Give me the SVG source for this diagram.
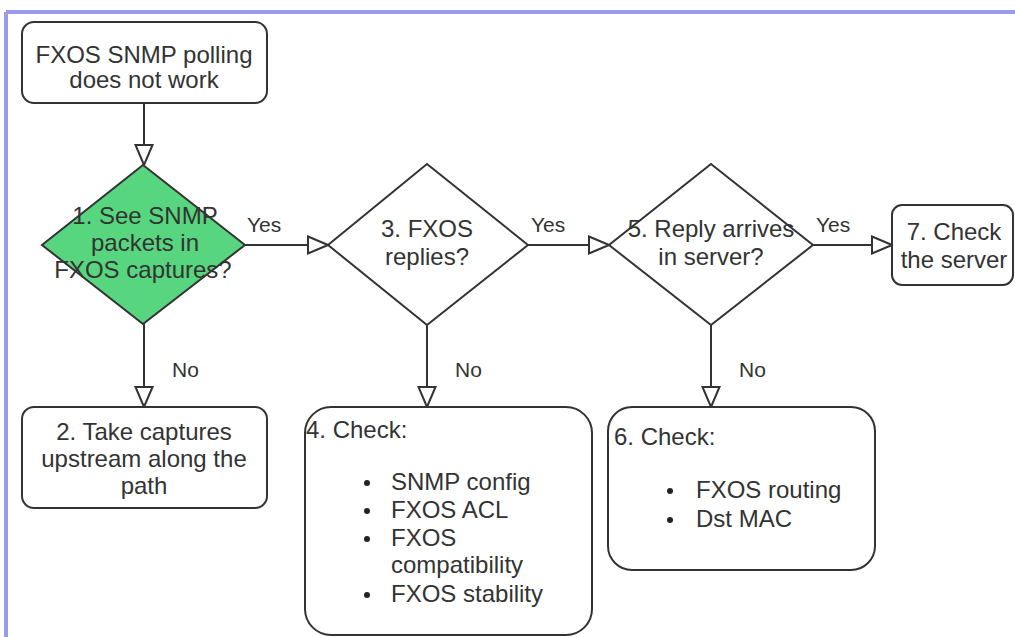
<svg xmlns="http://www.w3.org/2000/svg" width="1015" height="637" viewBox="0 0 1015 637">
<style>
.t{font-family:"Liberation Sans",Arial,sans-serif;font-size:24px;fill:#333}
.c{text-anchor:middle}
.lbl{font-family:"Liberation Sans",Arial,sans-serif;font-size:21px;fill:#333}
.box{fill:#fff;stroke:#333;stroke-width:2}
.line{fill:none;stroke:#333;stroke-width:2}
</style>
<defs>
<marker id="arr" viewBox="0 0 22 20" markerWidth="22" markerHeight="20" refX="21" refY="10" markerUnits="userSpaceOnUse" orient="auto">
<path d="M1,1.5 L21,10 L1,18.5 z" fill="#fff" stroke="#333" stroke-width="2"/>
</marker>
</defs>
<rect x="0" y="0" width="1015" height="637" fill="#fff"/>
<g id="frame">
<line x1="6" y1="12" x2="1015" y2="12" stroke="#9b9bee" stroke-width="4"/>
<line x1="6" y1="12" x2="6" y2="637" stroke="#9b9bee" stroke-width="4"/>
</g>
<g id="connectors">
<line class="line" x1="144" y1="103" x2="144" y2="165" marker-end="url(#arr)"/>
<line class="line" x1="245" y1="245" x2="328" y2="245" marker-end="url(#arr)"/>
<line class="line" x1="528" y1="245" x2="609" y2="245" marker-end="url(#arr)"/>
<line class="line" x1="813" y1="245" x2="892" y2="245" marker-end="url(#arr)"/>
<line class="line" x1="144" y1="324" x2="144" y2="407" marker-end="url(#arr)"/>
<line class="line" x1="427" y1="325" x2="427" y2="407" marker-end="url(#arr)"/>
<line class="line" x1="711" y1="325" x2="711" y2="407" marker-end="url(#arr)"/>
<text class="lbl" x="247" y="232">Yes</text>
<text class="lbl" x="531" y="232">Yes</text>
<text class="lbl" x="816" y="232">Yes</text>
<text class="lbl" x="172" y="377">No</text>
<text class="lbl" x="455" y="377">No</text>
<text class="lbl" x="739" y="377">No</text>
</g>
<g id="start">
<rect class="box" x="22" y="22" width="245" height="81" rx="12"/>
<text class="t c" x="144" y="63">FXOS SNMP polling</text>
<text class="t c" x="144" y="88">does not work</text>
</g>
<g id="d1">
<polygon points="143,165 245,245 143,324 42,245" fill="#58d67f" stroke="#333" stroke-width="2"/>
<text class="t c" x="145" y="224">1. See SNMP</text>
<text class="t c" x="145" y="251">packets in</text>
<text class="t c" x="143" y="278">FXOS captures?</text>
</g>
<g id="d3">
<polygon points="427,164 528,245 427,325 328,245" class="box"/>
<text class="t c" x="427" y="237">3. FXOS</text>
<text class="t c" x="427" y="265">replies?</text>
</g>
<g id="d5">
<polygon points="711,164 813,245 711,325 609,245" class="box"/>
<text class="t c" x="711" y="237">5. Reply arrives</text>
<text class="t c" x="711" y="265">in server?</text>
</g>
<g id="n7">
<rect class="box" x="892" y="205" width="121" height="80" rx="10"/>
<text class="t c" x="954" y="240">7. Check</text>
<text class="t c" x="954" y="268">the server</text>
</g>
<g id="n2">
<rect class="box" x="22" y="407" width="245" height="101" rx="12"/>
<text class="t c" x="144" y="440">2. Take captures</text>
<text class="t c" x="144" y="467">upstream along the</text>
<text class="t c" x="144" y="494">path</text>
</g>
<g id="n4">
<rect class="box" x="305" y="407" width="287" height="228" rx="26"/>
<text class="t" x="306" y="438">4. Check:</text>
<circle cx="367" cy="483" r="3" fill="#222"/>
<circle cx="367" cy="511" r="3" fill="#222"/>
<circle cx="367" cy="539" r="3" fill="#222"/>
<circle cx="367" cy="595" r="3" fill="#222"/>
<text class="t" x="391" y="490">SNMP config</text>
<text class="t" x="391" y="518">FXOS ACL</text>
<text class="t" x="391" y="546">FXOS</text>
<text class="t" x="391" y="573">compatibility</text>
<text class="t" x="391" y="602">FXOS stability</text>
</g>
<g id="n6">
<rect class="box" x="608" y="407" width="267" height="163" rx="24"/>
<text class="t" x="614" y="445">6. Check:</text>
<circle cx="670" cy="491" r="3" fill="#222"/>
<circle cx="670" cy="520" r="3" fill="#222"/>
<text class="t" x="696" y="498">FXOS routing</text>
<text class="t" x="696" y="527">Dst MAC</text>
</g>
</svg>
